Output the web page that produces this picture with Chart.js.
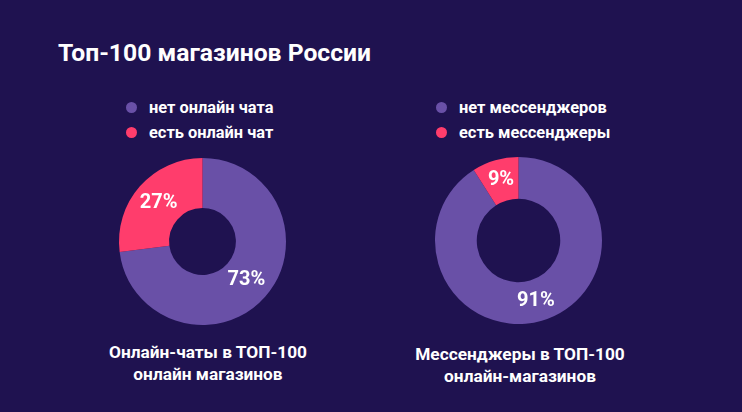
<!DOCTYPE html>
<html>
<head>
<meta charset="utf-8">
<script src="https://cdn.jsdelivr.net/npm/chart.js@4"></script>
<style>
  html, body { margin: 0; padding: 0; }
  body { width: 742px; height: 412px; background: #1f1250; position: relative; overflow: hidden;
         font-family: Roboto, sans-serif; color: #fff; }
  h1 { position: absolute; left: 58px; top: 38px; margin: 0; font-size: 24.7px; font-weight: bold; line-height: 30px; }
  .legend { position: absolute; list-style: none; margin: 0; padding: 0; font-size: 16.4px; font-weight: bold; }
  .legend li { height: 25px; line-height: 25px; position: relative; padding-left: 23px; }
  .legend li span { position: absolute; left: 0; top: 7px; width: 11px; height: 11px; border-radius: 50%; }
  .box { position: absolute; width: 177px; height: 177px; }
  .caption { position: absolute; width: 300px; text-align: center; font-size: 17.3px; font-weight: bold; line-height: 22px; }
</style>
</head>
<body>
<h1>Топ-100 магазинов России</h1>

<ul class="legend" id="legend1" style="left:126px; top:95px;"></ul>
<ul class="legend" id="legend2" style="left:436px; top:95px;"></ul>

<div class="box" style="left:114px; top:153px;"><canvas id="chart1"></canvas></div>
<div class="box" style="left:430px; top:152px;"><canvas id="chart2"></canvas></div>

<div class="caption" style="left:58px; top:341px;">Онлайн-чаты в ТОП-100<br>онлайн магазинов</div>
<div class="caption" style="left:370px; top:343px;">Мессенджеры в ТОП-100<br>онлайн-магазинов</div>

<script>
const chatLabels = ["нет онлайн чата", "есть онлайн чат"];
const chatValues = [73, 27];
const messengerLabels = ["нет мессенджеров", "есть мессенджеры"];
const messengerValues = [91, 9];
const colors = ["#6950a7", "#ff3d6c"];

// percent labels in the middle of each slice
const sliceLabels = {
  id: "sliceLabels",
  afterDatasetsDraw(chart) {
    const ctx = chart.ctx;
    const values = chart.data.datasets[0].data;
    ctx.save();
    ctx.fillStyle = "#fff";
    ctx.font = "bold 20px Roboto";
    ctx.textAlign = "center";
    ctx.textBaseline = "middle";
    chart.getDatasetMeta(0).data.forEach((arc, i) => {
      const pos = arc.tooltipPosition();
      ctx.fillText(values[i] + "%", pos.x, pos.y);
    });
    ctx.restore();
  }
};

function makeLegend(id, labels) {
  const ul = document.getElementById(id);
  labels.forEach((text, i) => {
    const li = document.createElement("li");
    li.innerHTML = `<span style="background:${colors[i]}"></span>${text}`;
    ul.appendChild(li);
  });
}

function makeChart(id, labels, values, cutout) {
  return new Chart(document.getElementById(id), {
    type: "doughnut",
    data: {
      labels: labels,
      datasets: [{ data: values, backgroundColor: colors, borderWidth: 0 }]
    },
    options: {
      responsive: true,
      maintainAspectRatio: false,
      animation: false,
      cutout: cutout,
      layout: { padding: 5 },
      plugins: { legend: { display: false }, tooltip: { enabled: false } }
    },
    plugins: [sliceLabels]
  });
}

makeLegend("legend1", chatLabels);
makeLegend("legend2", messengerLabels);
makeChart("chart1", chatLabels, chatValues, "40%");
makeChart("chart2", messengerLabels, messengerValues, "50%");
</script>
</body>
</html>
